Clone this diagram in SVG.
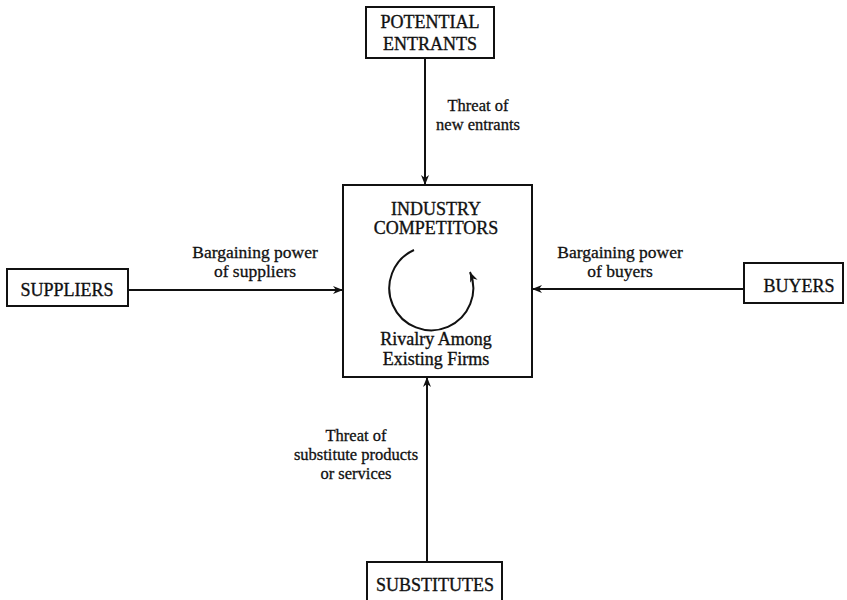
<svg xmlns="http://www.w3.org/2000/svg" width="847" height="600" viewBox="0 0 847 600">
  <defs>
    <marker id="arr" viewBox="0 0 10 10" refX="10" refY="5" markerWidth="10" markerHeight="10" markerUnits="userSpaceOnUse" orient="auto">
      <path d="M0,1 L10,5 L0,9 L3,5 Z" fill="#111"/>
    </marker>
    <style>
      .box { fill: #fff; stroke: #111; stroke-width: 2; }
      .node { font-family: "Liberation Serif", "Times New Roman", serif; font-size: 18px; fill: #111; stroke: #111; stroke-width: 0.35; text-anchor: middle; }
      .lbl { font-family: "Liberation Serif", "Times New Roman", serif; font-size: 16.5px; fill: #111; stroke: #111; stroke-width: 0.3; text-anchor: middle; }
      .lbl2 { font-size: 17.5px; }
      .con { fill: none; stroke: #111; stroke-width: 2; }
    </style>
  </defs>
  <rect width="847" height="600" fill="#fff"/>

  <g id="connectors">
    <line class="con" x1="425" y1="58" x2="425" y2="185" marker-end="url(#arr)"/>
    <line class="con" x1="128" y1="290" x2="343" y2="290" marker-end="url(#arr)"/>
    <line class="con" x1="744" y1="289" x2="532" y2="289" marker-end="url(#arr)"/>
    <line class="con" x1="427" y1="562" x2="427" y2="377" marker-end="url(#arr)"/>
    <text class="lbl" x="478" y="111">Threat of</text>
    <text class="lbl" x="478" y="130">new entrants</text>
    <text class="lbl lbl2" x="255" y="258">Bargaining power</text>
    <text class="lbl lbl2" x="255" y="277">of suppliers</text>
    <text class="lbl lbl2" x="620" y="258">Bargaining power</text>
    <text class="lbl lbl2" x="620" y="277">of buyers</text>
    <text class="lbl" x="356" y="441">Threat of</text>
    <text class="lbl" x="356" y="460">substitute products</text>
    <text class="lbl" x="356" y="479">or services</text>
  </g>

  <g id="potential-entrants">
    <rect class="box" x="366" y="7" width="128" height="51"/>
    <text class="node" x="430" y="28">POTENTIAL</text>
    <text class="node" x="430" y="50">ENTRANTS</text>
  </g>

  <g id="industry-competitors">
    <rect class="box" x="343" y="185" width="189" height="192"/>
    <text class="node" x="436" y="215">INDUSTRY</text>
    <text class="node" x="436" y="234">COMPETITORS</text>
    <path class="con" d="M414,250 A42,42 0 1 0 470,272" marker-end="url(#arr)"/>
    <text class="node" x="436" y="345">Rivalry Among</text>
    <text class="node" x="436" y="365">Existing Firms</text>
  </g>

  <g id="suppliers">
    <rect class="box" x="7" y="269" width="121" height="37"/>
    <text class="node" x="67" y="296">SUPPLIERS</text>
  </g>

  <g id="buyers">
    <rect class="box" x="744" y="263" width="99" height="40"/>
    <text class="node" x="799" y="292">BUYERS</text>
  </g>

  <g id="substitutes">
    <rect class="box" x="367" y="562" width="135" height="45"/>
    <text class="node" x="435" y="591">SUBSTITUTES</text>
  </g>
</svg>
